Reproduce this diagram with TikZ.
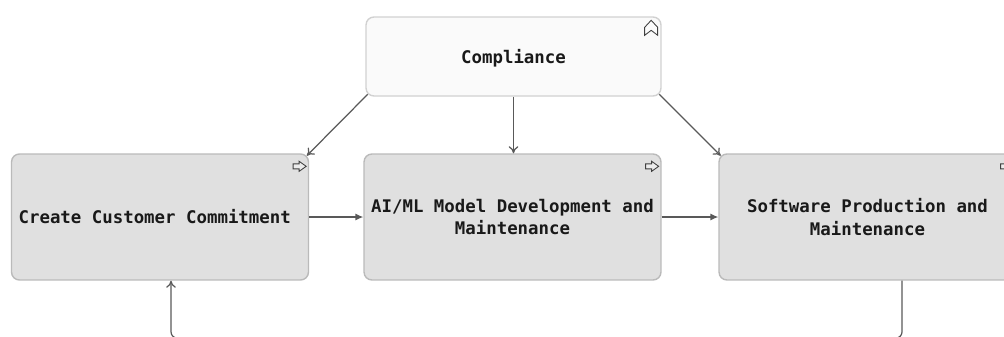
\documentclass[tikz,border=0pt]{standalone}
\usepackage{fontspec}
\setmonofont{DejaVu Sans Mono}
\usetikzlibrary{arrows.meta,calc}
\tikzset{
	proc/.style={draw=black!27,fill=black!12,line width=.8pt,rounded corners=4.5pt,minimum width=5.94cm,minimum height=2.52cm,align=center,inner sep=0pt,font=\ttfamily\bfseries\fontsize{9.9}{13}\selectfont,text=black!90},
	group/.style={proc,draw=black!18,fill=black!2,minimum width=5.9cm,minimum height=1.58cm,text depth=0pt},
	link/.style={draw=black!65,line width=.7pt},
	open/.style={link,-{To[length=4pt,width=5.5pt]}},
	solid/.style={link,-{Latex[length=4.5pt,width=4pt]}},
	corner/.style={shorten <=-1.9pt,shorten >=-1.9pt},
	icon/.style={draw=black!75,line width=.5pt,fill=white,fill opacity=.4}
}
\begin{document}
\begin{tikzpicture}[x=.02cm,y=-.02cm]
	\clip (0,0) rectangle (1004,336);
	\node[proc] (cust) at (160,217) {Create Customer Commitment\hspace*{6pt}};
	\node[proc] (dev) at (512.5,217) {AI/ML Model Development and\\Maintenance};
	\node[proc] (soft) at (867.5,217) {Software Production and\\Maintenance};
	\node[group] (comp) at (513.5,56.5) {Compliance};
	\path
	(171,338) coordinate (loopL)
	(902,338) coordinate (loopR)
	;
	\draw[open,corner] (comp.south west) -- (cust.north east);
	\draw[open] (comp.south) -- (comp.south |- dev.north);
	\draw[open,corner] (comp.south east) -- (soft.north west);
	\draw[solid] (cust) -- (dev);
	\draw[solid] (dev) -- (soft);
	\draw[open,rounded corners=3.5pt] (loopR |- soft.south) -- (loopR) -- (loopL) -- (loopL |- cust.south);
	% icons in the corners
	\foreach \x in {cust,dev,soft} \draw[icon] ($(\x.north east)+(-16,10.5)$) -- ++(6,0) -- ++(0,-2.5) -- ++(7,5) -- ++(-7,5) -- ++(0,-2.5) -- ++(-6,0) -- cycle;
	\draw[icon] ($(comp.north east)+(-17,11)$) -- ++(6.5,-7) -- ++(6.5,7) -- ++(0,8) -- ++(-6.5,-5) -- ++(-6.5,5) -- cycle;
\end{tikzpicture}
\end{document}
